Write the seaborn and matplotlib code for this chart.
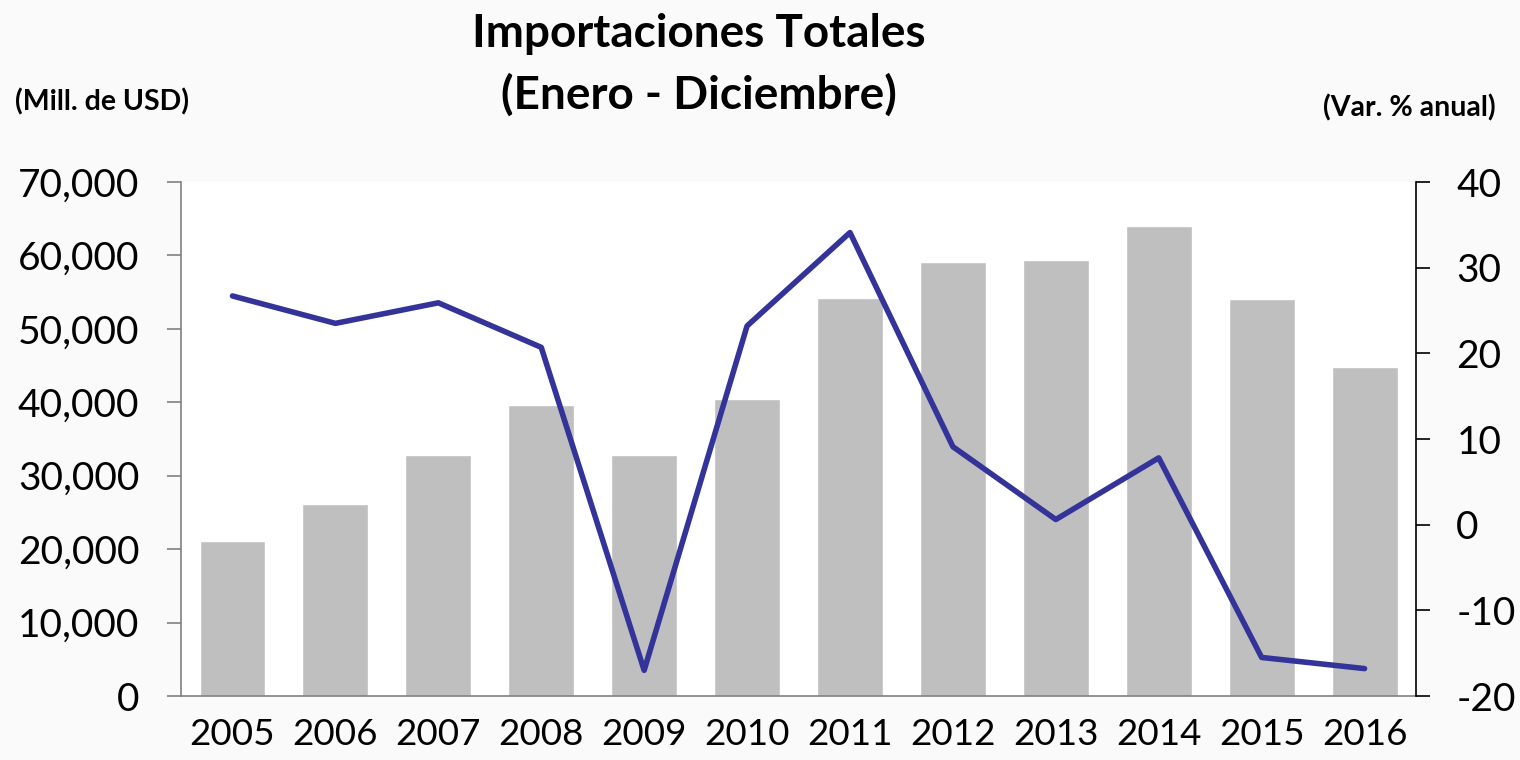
import numpy as np
import matplotlib.pyplot as plt
import seaborn as sns
from matplotlib.ticker import FuncFormatter, FixedLocator

# Data
years = ['2005', '2006', '2007', '2008', '2009', '2010',
         '2011', '2012', '2013', '2014', '2015', '2016']
imports_musd = [21100, 26150, 32800, 39600, 32800, 40450,
                54200, 59100, 59350, 64000, 54050, 44800]
var_pct = [26.7, 23.5, 25.9, 20.7, -17.0, 23.2,
           34.1, 9.1, 0.6, 7.8, -15.5, -16.8]

sns.set_style('white')
plt.rcParams['font.family'] = ['Lato', 'DejaVu Sans']
plt.rcParams['text.color'] = 'black'

fig = plt.figure(figsize=(15.2, 7.6), dpi=100, facecolor='#fafafa')
ax = fig.add_axes([0.1191, 0.0842, 0.8125, 0.6763])
ax.set_facecolor('white')

sns.barplot(x=years, y=imports_musd, color='#bfbfbf', saturation=1,
            width=0.64, ax=ax)
ax.set_xlim(-0.5, len(years) - 0.5)
ax.set_ylim(0, 70000)
ax.yaxis.set_major_locator(FixedLocator(np.arange(0, 70001, 10000)))
ax.yaxis.set_major_formatter(FuncFormatter(lambda v, p: f'{int(v):,}'))

# x ticks at category boundaries, labels centred under bars
ax.xaxis.set_major_locator(FixedLocator(np.arange(-0.5, len(years), 1)))
ax.xaxis.set_minor_locator(FixedLocator(np.arange(len(years))))
ax.set_xticklabels([], minor=False)
ax.set_xticklabels(years, minor=True)
ax.tick_params(axis='x', which='major', length=10, width=1.2, color='#808080',
               direction='out')
ax.tick_params(axis='x', which='minor', length=0, labelsize=26.5, pad=16,
               labelcolor='black')
ax.tick_params(axis='y', length=10, width=1.2, color='#808080',
               labelsize=28, pad=20, direction='out', labelcolor='black')
for s in ['top', 'right']:
    ax.spines[s].set_visible(False)
for s in ['left', 'bottom']:
    ax.spines[s].set_color('#808080')
    ax.spines[s].set_linewidth(1.2)
ax.set_xlabel('')
ax.set_ylabel('')

ax2 = ax.twinx()
sns.lineplot(x=np.arange(len(years)), y=var_pct, color='#333399',
             linewidth=4, ax=ax2)
ax2.set_ylim(-20, 40)
ax2.yaxis.set_major_locator(FixedLocator(np.arange(-20, 41, 10)))
ax2.yaxis.set_major_formatter(FuncFormatter(lambda v, p: f'{int(v)}'))
ax2.tick_params(axis='y', length=10, width=1.2, color='black',
                labelsize=28, pad=19, direction='out', labelcolor='black')
for s in ['top', 'left', 'bottom']:
    ax2.spines[s].set_visible(False)
ax2.spines['right'].set_color('black')
ax2.spines['right'].set_linewidth(1.2)
ax2.set_ylabel('')

fig.text(0.46, 0.955, 'Importaciones Totales', ha='center', va='center',
         fontsize=33, fontweight='bold')
fig.text(0.46, 0.875, '(Enero - Diciembre)', ha='center', va='center',
         fontsize=33, fontweight='bold')
fig.text(0.010, 0.866, '(Mill. de USD)', ha='left', va='center',
         fontsize=20.5, fontweight='bold')
fig.text(0.984, 0.858, '(Var. % anual)', ha='right', va='center',
         fontsize=20.5, fontweight='bold')

fig.savefig('out.png', dpi=100, facecolor=fig.get_facecolor())
